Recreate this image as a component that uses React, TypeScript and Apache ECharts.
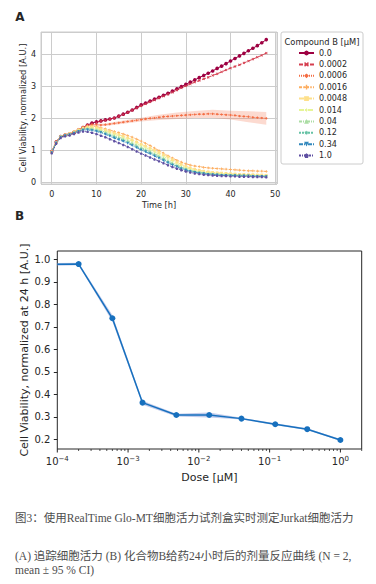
import React, { useEffect, useRef } from 'react';
import * as echarts from 'echarts';

// ---------- Panel A data (hourly time points) ----------
const times = Array.from({ length: 49 }, (_, i) => i);
const doseLabels = ['0.0', '0.0002', '0.0006', '0.0016', '0.0048', '0.014', '0.04', '0.12', '0.34', '1.0'];
const xTicksA = [0, 10, 20, 30, 40, 50];
const yTicksA = [0, 1, 2, 3, 4];

const v0 = [0.95, 1.25, 1.42, 1.47, 1.5, 1.55, 1.62, 1.7, 1.78, 1.84, 1.88, 1.91, 1.94, 1.97, 2.0, 2.06, 2.12, 2.18, 2.25, 2.33, 2.41, 2.47, 2.53, 2.59, 2.65, 2.71, 2.77, 2.84, 2.91, 2.98, 3.05, 3.12, 3.19, 3.26, 3.33, 3.4, 3.47, 3.55, 3.62, 3.7, 3.78, 3.86, 3.94, 4.02, 4.1, 4.18, 4.26, 4.35, 4.45];
const v0002 = [0.96, 1.26, 1.43, 1.47, 1.5, 1.56, 1.63, 1.7, 1.77, 1.82, 1.86, 1.9, 1.93, 1.96, 2.0, 2.05, 2.11, 2.17, 2.24, 2.31, 2.38, 2.44, 2.5, 2.56, 2.62, 2.68, 2.74, 2.8, 2.87, 2.94, 3.0, 3.06, 3.12, 3.17, 3.22, 3.27, 3.33, 3.38, 3.44, 3.5, 3.56, 3.61, 3.66, 3.72, 3.78, 3.84, 3.9, 3.96, 4.03];
const v0006 = [0.95, 1.26, 1.43, 1.48, 1.52, 1.58, 1.65, 1.72, 1.77, 1.79, 1.79, 1.78, 1.79, 1.81, 1.83, 1.85, 1.87, 1.89, 1.91, 1.93, 1.95, 1.97, 1.99, 2.0, 2.02, 2.04, 2.05, 2.06, 2.07, 2.08, 2.09, 2.1, 2.11, 2.12, 2.12, 2.13, 2.13, 2.12, 2.11, 2.1, 2.09, 2.08, 2.06, 2.05, 2.04, 2.02, 2.01, 2.0, 1.99];
const v0016 = [0.95, 1.25, 1.43, 1.48, 1.52, 1.58, 1.64, 1.7, 1.74, 1.75, 1.73, 1.7, 1.66, 1.62, 1.58, 1.54, 1.5, 1.45, 1.4, 1.34, 1.28, 1.21, 1.14, 1.06, 0.98, 0.9, 0.82, 0.75, 0.68, 0.62, 0.57, 0.53, 0.5, 0.48, 0.46, 0.44, 0.43, 0.42, 0.41, 0.4, 0.39, 0.38, 0.37, 0.36, 0.35, 0.35, 0.34, 0.34, 0.33];
const v0048 = [0.94, 1.24, 1.42, 1.47, 1.51, 1.57, 1.63, 1.68, 1.72, 1.72, 1.7, 1.66, 1.62, 1.57, 1.53, 1.48, 1.43, 1.38, 1.32, 1.25, 1.18, 1.12, 1.06, 0.99, 0.92, 0.85, 0.78, 0.7, 0.62, 0.55, 0.49, 0.44, 0.4, 0.37, 0.34, 0.32, 0.3, 0.29, 0.28, 0.27, 0.26, 0.25, 0.24, 0.24, 0.23, 0.23, 0.22, 0.22, 0.21];
const v014 = [0.94, 1.24, 1.42, 1.47, 1.5, 1.56, 1.62, 1.67, 1.7, 1.69, 1.67, 1.63, 1.59, 1.54, 1.49, 1.44, 1.39, 1.33, 1.27, 1.2, 1.13, 1.07, 1.01, 0.94, 0.87, 0.8, 0.72, 0.65, 0.57, 0.5, 0.45, 0.4, 0.36, 0.33, 0.31, 0.29, 0.28, 0.27, 0.26, 0.25, 0.24, 0.23, 0.23, 0.22, 0.22, 0.21, 0.21, 0.2, 0.2];
const v04 = [0.93, 1.23, 1.41, 1.46, 1.5, 1.55, 1.61, 1.66, 1.68, 1.67, 1.64, 1.6, 1.56, 1.5, 1.45, 1.4, 1.35, 1.29, 1.22, 1.15, 1.08, 1.02, 0.96, 0.89, 0.82, 0.75, 0.67, 0.6, 0.53, 0.47, 0.42, 0.37, 0.34, 0.31, 0.29, 0.27, 0.26, 0.25, 0.24, 0.23, 0.22, 0.22, 0.21, 0.21, 0.2, 0.2, 0.19, 0.19, 0.19];
const v12 = [0.93, 1.22, 1.41, 1.46, 1.49, 1.54, 1.6, 1.64, 1.66, 1.64, 1.61, 1.57, 1.52, 1.47, 1.41, 1.36, 1.31, 1.25, 1.18, 1.11, 1.04, 0.98, 0.92, 0.85, 0.78, 0.71, 0.63, 0.56, 0.5, 0.44, 0.39, 0.35, 0.32, 0.29, 0.27, 0.25, 0.24, 0.23, 0.22, 0.22, 0.21, 0.21, 0.2, 0.2, 0.19, 0.19, 0.18, 0.18, 0.18];
const v34 = [0.92, 1.22, 1.4, 1.45, 1.48, 1.53, 1.58, 1.62, 1.63, 1.61, 1.58, 1.54, 1.49, 1.43, 1.37, 1.32, 1.27, 1.21, 1.14, 1.07, 1.0, 0.94, 0.88, 0.81, 0.74, 0.67, 0.6, 0.53, 0.47, 0.41, 0.37, 0.33, 0.3, 0.28, 0.26, 0.24, 0.23, 0.22, 0.21, 0.21, 0.2, 0.2, 0.19, 0.19, 0.19, 0.18, 0.18, 0.18, 0.17];
const v1 = [0.9, 1.2, 1.38, 1.43, 1.46, 1.5, 1.55, 1.58, 1.57, 1.54, 1.5, 1.45, 1.4, 1.34, 1.28, 1.22, 1.16, 1.1, 1.03, 0.96, 0.89, 0.83, 0.77, 0.71, 0.65, 0.59, 0.53, 0.47, 0.42, 0.37, 0.33, 0.3, 0.27, 0.25, 0.23, 0.22, 0.21, 0.2, 0.19, 0.19, 0.18, 0.18, 0.17, 0.17, 0.17, 0.16, 0.16, 0.16, 0.15];
const seriesA = [v0, v0002, v0006, v0016, v0048, v014, v04, v12, v34, v1];

// 95% CI half-width of the 0.0006 curve
const bandTimesA = [8, 10, 12, 16, 20, 24, 28, 32, 36, 40, 44, 48];
const bandHalfA = [0.02, 0.03, 0.04, 0.05, 0.06, 0.08, 0.1, 0.11, 0.13, 0.14, 0.17, 0.2];

// ---------- Panel B data ----------
const dosesB = [0, 0.0002, 0.0006, 0.0016, 0.0048, 0.014, 0.04, 0.12, 0.34, 1.0];
const viabB = [0.978, 0.979, 0.738, 0.363, 0.308, 0.308, 0.292, 0.267, 0.245, 0.197];
const loB = [0.972, 0.974, 0.724, 0.354, 0.302, 0.297, 0.288, 0.263, 0.241, 0.193];
const hiB = [0.984, 0.985, 0.753, 0.371, 0.314, 0.319, 0.296, 0.271, 0.249, 0.201];
const yTicksB = [0.2, 0.3, 0.4, 0.5, 0.6, 0.7, 0.8, 0.9, 1.0];
const majorTicksB = [0.0001, 0.001, 0.01, 0.1, 1];

// ---------- styles ----------
const colorsA = ['#9e0142', '#d53e4f', '#f46d43', '#fdae61', '#fee08b', '#e6f598', '#abdda4', '#66c2a5', '#3288bd', '#5e4fa2'];
const dashesA: any[] = ['solid', [4, 1.5], [1, 1], [3, 1.25, 1.5, 1.25], [5, 1, 1, 1], [5, 1, 2, 1], [3, 1, 1, 1, 1, 1], [2, 1], [4, 1, 1, 1, 1, 1], [2, 1, 1, 1]];
const symbolsA = [
  'circle',
  'path://M0,2 L2,0 L5,3 L8,0 L10,2 L7,5 L10,8 L8,10 L5,7 L2,10 L0,8 L3,5 Z',
  'diamond',
  'path://M3.5,0 H6.5 V3.5 H10 V6.5 H6.5 V10 H3.5 V6.5 H0 V3.5 H3.5 Z',
  'rect',
  'path://M5,0 L6.2,3.8 L10,5 L6.2,6.2 L5,10 L3.8,6.2 L0,5 L3.8,3.8 Z',
  'triangle',
  'path://M5,0 L6,3 L9,1 L7,4 L10,5 L7,6 L9,9 L6,7 L5,10 L4,7 L1,9 L3,6 L0,5 L3,4 L1,1 L4,3 Z',
  'path://M0,0 L10,0 L5,10 Z',
  'path://M5,0 L10,3.8 L8.1,10 L1.9,10 L0,3.8 Z',
];
const FONT = 'DejaVu Sans';
const TXT = '#262626';
const CAP_FONT = "'Liberation Serif', 'Noto Sans CJK SC', serif";

const X_MIN_B = 0.0001;
const X_MAX_B = 2;
const Y_MIN_B = 0.157;
const Y_MAX_B = 1.037;

export default function App() {
  const ref = useRef<HTMLDivElement>(null);

  useEffect(() => {
    if (!ref.current) return;
    const chart = echarts.init(ref.current, undefined, { renderer: 'svg' });

    const lineSeriesA = seriesA.map((arr, i) => ({
      type: 'line',
      name: doseLabels[i],
      xAxisIndex: 0,
      yAxisIndex: 0,
      data: times.map((t, j) => [t, arr[j]]),
      symbol: symbolsA[i],
      symbolSize: i === 0 ? 3.6 : 2.7,
      showSymbol: true,
      lineStyle: { color: colorsA[i], width: 1, type: dashesA[i] },
      itemStyle: { color: colorsA[i] },
      emphasis: { disabled: true },
      z: 3,
    }));

    const bandPtsA = bandTimesA.map((t, k) => {
      const m = v0006[times.indexOf(t)];
      return [t, m - bandHalfA[k], m + bandHalfA[k]];
    });

    const xB = dosesB.map((d) => (d === 0 ? X_MIN_B : d));
    const bandPtsB = xB.map((x, i) => [x, loB[i], hiB[i]]);

    const minorTicksB: number[][] = [];
    for (let e = -4; e <= 0; e++) {
      for (let k = 2; k <= 9; k++) {
        const v = k * Math.pow(10, e);
        if (v <= X_MAX_B * 1.0001) minorTicksB.push([v, 1]);
      }
    }
    const tickPtsB = majorTicksB.map((v) => [v, 0]).concat(minorTicksB);

    const bandRender = (pts: number[][], fill: string, opacity: number) => (params: any, api: any) => {
      if (params.dataIndex !== 0) return null;
      const upper = pts.map((p) => api.coord([p[0], p[2]]));
      const lower = pts.map((p) => api.coord([p[0], p[1]])).reverse();
      return {
        type: 'polygon',
        shape: { points: upper.concat(lower) },
        style: { fill, opacity },
      };
    };

    const supExp = (v: number) => {
      const e = Math.round(Math.log10(v));
      const s = e < 0 ? '\u2212' + String(-e) : String(e);
      return '{b|10}{e|' + s + '}';
    };

    const option: any = {
      animation: false,
      backgroundColor: '#ffffff',
      textStyle: { fontFamily: FONT },
      grid: [
        { left: 41, top: 32, width: 236, height: 152, show: true, borderColor: '#cccccc', borderWidth: 1, backgroundColor: 'transparent' },
        { left: 57.3, top: 251, width: 304.4, height: 198, show: true, borderColor: TXT, borderWidth: 1, backgroundColor: 'transparent' },
      ],
      xAxis: [
        {
          type: 'value', gridIndex: 0, min: -2.4, max: 50.4,
          axisLine: { show: false }, axisTick: { show: false },
          splitLine: { show: true, lineStyle: { color: '#cccccc', width: 1 } },
          axisLabel: { customValues: xTicksA, fontSize: 8, color: TXT, margin: 6, fontFamily: FONT },
        },
        {
          type: 'log', logBase: 10, gridIndex: 1, min: X_MIN_B, max: X_MAX_B,
          axisLine: { show: false }, axisTick: { show: false }, splitLine: { show: false }, minorTick: { show: false },
          axisLabel: {
            showMaxLabel: false, margin: 6, color: TXT,
            formatter: (v: number) => supExp(v),
            rich: {
              b: { fontSize: 10, color: TXT, fontFamily: FONT },
              e: { fontSize: 7, color: TXT, fontFamily: FONT, padding: [0, 0, 6, 0] },
            },
          },
        },
      ],
      yAxis: [
        {
          type: 'value', gridIndex: 0, min: -0.0625, max: 4.6875,
          axisLine: { show: false }, axisTick: { show: false },
          splitLine: { show: true, lineStyle: { color: '#cccccc', width: 1 } },
          axisLabel: { customValues: yTicksA, fontSize: 8, color: TXT, margin: 5, fontFamily: FONT },
        },
        {
          type: 'value', gridIndex: 1, min: Y_MIN_B, max: Y_MAX_B,
          axisLine: { show: false },
          axisTick: { show: true, customValues: yTicksB, length: 3.5, lineStyle: { color: TXT, width: 1 } },
          splitLine: { show: false },
          axisLabel: { customValues: yTicksB, formatter: (v: number) => v.toFixed(1), fontSize: 10, color: TXT, margin: 7, fontFamily: FONT },
        },
      ],
      legend: {
        data: doseLabels,
        orient: 'vertical',
        left: 293,
        top: 44,
        padding: 5,
        itemWidth: 15,
        itemHeight: 6,
        itemGap: 3.4,
        selectedMode: false,
        textStyle: { fontSize: 8, color: TXT, fontFamily: FONT },
      },
      graphic: [
        { type: 'rect', z: -1, shape: { x: 281, y: 32, width: 82, height: 132, r: 2 }, style: { fill: 'rgba(255,255,255,0.8)', stroke: '#cccccc', lineWidth: 1 } },
        { type: 'text', x: 322, y: 42, style: { text: 'Compound B [\u03bcM]', fontSize: 8.3, fill: TXT, fontFamily: FONT, align: 'center', verticalAlign: 'middle' } },
        { type: 'text', x: 20, y: 16.5, style: { text: 'A', fontSize: 12, fontWeight: 'bold', fill: TXT, fontFamily: FONT, align: 'center', verticalAlign: 'middle' } },
        { type: 'text', x: 19.5, y: 216, style: { text: 'B', fontSize: 12, fontWeight: 'bold', fill: TXT, fontFamily: FONT, align: 'center', verticalAlign: 'middle' } },
        { type: 'text', x: 23, y: 108, rotation: Math.PI / 2, style: { text: 'Cell Viability, normalized [A.U.]', fontSize: 8.3, fill: TXT, fontFamily: FONT, align: 'center', verticalAlign: 'middle' } },
        { type: 'text', x: 159, y: 205, style: { text: 'Time [h]', fontSize: 8.2, fill: TXT, fontFamily: FONT, align: 'center', verticalAlign: 'middle' } },
        { type: 'text', x: 24, y: 350, rotation: Math.PI / 2, style: { text: 'Cell Viability, normalized at 24 h [A.U.]', fontSize: 11, fill: TXT, fontFamily: FONT, align: 'center', verticalAlign: 'middle' } },
        { type: 'text', x: 209.5, y: 477, style: { text: 'Dose [\u03bcM]', fontSize: 11, fill: TXT, fontFamily: FONT, align: 'center', verticalAlign: 'middle' } },
        { type: 'text', x: 15, y: 518, style: { text: '图3：使用RealTime Glo-MT细胞活力试剂盒实时测定Jurkat细胞活力', fontSize: 11.5, fill: '#4d4d4d', fontFamily: CAP_FONT, align: 'left', verticalAlign: 'middle' } },
        { type: 'text', x: 15, y: 555.7, style: { text: '(A) 追踪细胞活力 (B) 化合物B给药24小时后的剂量反应曲线 (N = 2,', fontSize: 11.5, fill: '#4d4d4d', fontFamily: CAP_FONT, align: 'left', verticalAlign: 'middle' } },
        { type: 'text', x: 15, y: 570.3, style: { text: 'mean ± 95 % CI)', fontSize: 11.5, fill: '#4d4d4d', fontFamily: CAP_FONT, align: 'left', verticalAlign: 'middle' } },
      ],
      series: [
        {
          type: 'custom', name: 'bandA', xAxisIndex: 0, yAxisIndex: 0, silent: true, z: 2,
          data: bandPtsA, encode: { x: 0, y: [1, 2] },
          renderItem: bandRender(bandPtsA, '#f46d43', 0.25),
        },
        ...lineSeriesA,
        {
          type: 'custom', name: 'bandB', xAxisIndex: 1, yAxisIndex: 1, silent: true, z: 2,
          data: bandPtsB, encode: { x: 0, y: [1, 2] },
          renderItem: bandRender(bandPtsB, '#8fa3dc', 0.55),
        },
        {
          type: 'line', name: 'doseResponse', xAxisIndex: 1, yAxisIndex: 1, z: 3,
          data: xB.map((x, i) => (dosesB[i] === 0 ? { value: [x, viabB[i]], symbol: 'none' } : [x, viabB[i]])),
          symbol: 'circle', symbolSize: 6, showSymbol: true,
          lineStyle: { color: '#1770be', width: 1.5 },
          itemStyle: { color: '#1770be' },
          emphasis: { disabled: true },
        },
        {
          type: 'custom', name: 'ticksB', xAxisIndex: 1, yAxisIndex: 1, silent: true, clip: false,
          data: tickPtsB, encode: { x: 0, y: 1 },
          renderItem: (params: any, api: any) => {
            const x = api.value(0);
            const kind = api.value(1);
            const p = api.coord([x, Y_MIN_B]);
            const len = kind === 0 ? 3.5 : 2;
            return {
              type: 'line',
              shape: { x1: p[0], y1: p[1], x2: p[0], y2: p[1] + len },
              style: { stroke: TXT, lineWidth: kind === 0 ? 1 : 0.8 },
            };
          },
        },
      ],
    };

    chart.setOption(option);
    return () => chart.dispose();
  }, []);

  return (
    <div
      ref={ref}
      style={{ position: 'absolute', left: 0, top: 0, width: 376, height: 584, background: '#fff' }}
    />
  );
}
